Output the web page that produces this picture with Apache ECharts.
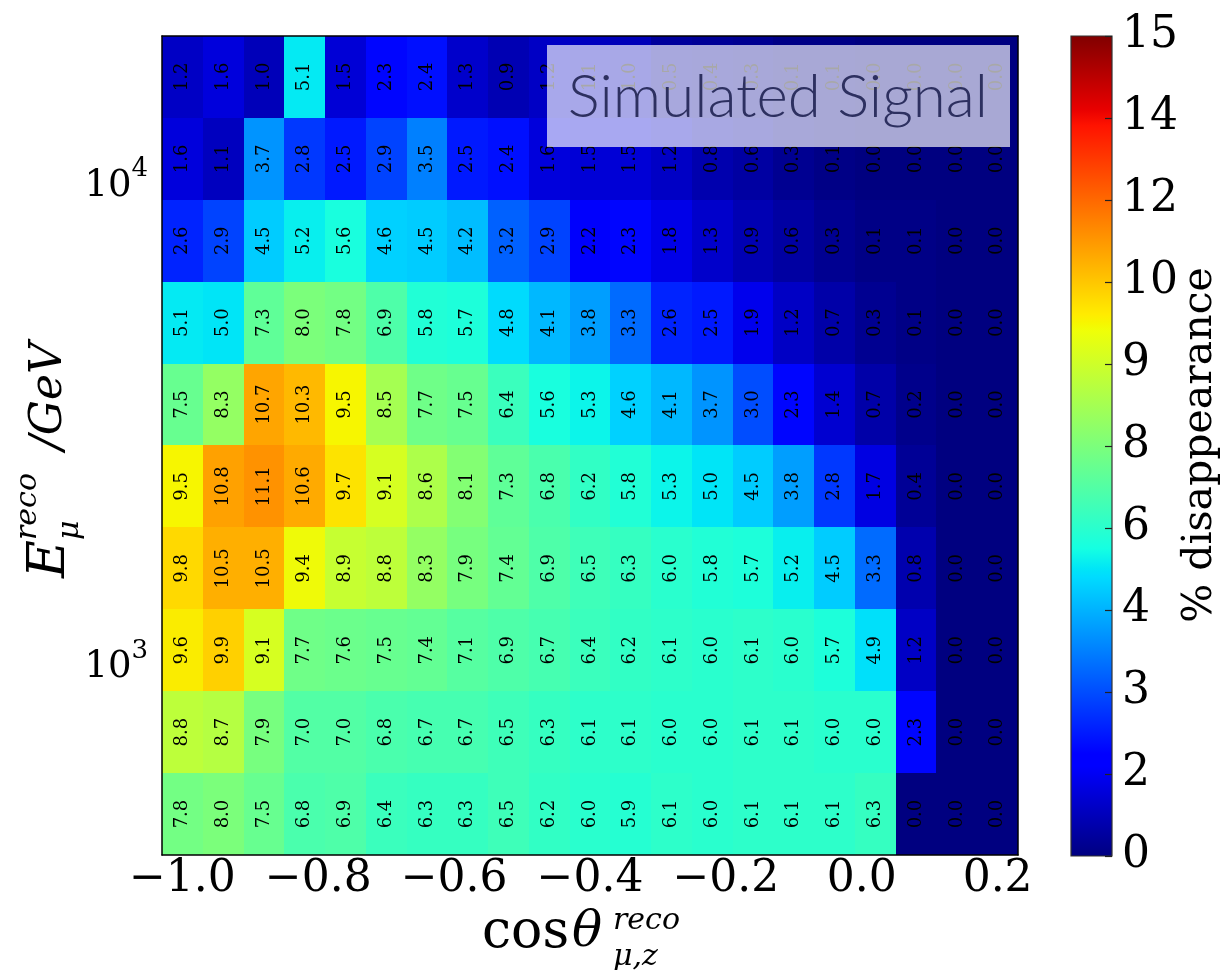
<!DOCTYPE html>
<html><head><meta charset="utf-8">
<script src="https://cdn.jsdelivr.net/npm/echarts@6/dist/echarts.min.js"></script>
<style>html,body{margin:0;padding:0;background:#fff}#c{width:1228px;height:970px}</style>
</head><body><div id="c"></div>
<script>
// cos(theta) bin edges (21 bins)
const cosEdges = [-1.03,-0.97,-0.91,-0.85,-0.79,-0.73,-0.67,-0.61,-0.55,-0.49,-0.43,-0.37,-0.31,-0.25,-0.19,-0.13,-0.07,-0.01,0.05,0.11,0.17,0.23];
// reconstructed muon energy bin edges in GeV (10 bins, log spaced)
const energyEdges = [398.1,588.8,871.0,1288.2,1905.5,2818.4,4168.7,6166.0,9120.1,13489.6,19952.6];
// % disappearance, one array per energy bin (row9 = highest energy, top)
const row9 = [1.2,1.6,1.0,5.1,1.5,2.3,2.4,1.3,0.9,1.2,1.1,1.0,0.5,0.4,0.3,0.1,0.1,0.0,0.0,0.0,0.0];
const row8 = [1.6,1.1,3.7,2.8,2.5,2.9,3.5,2.5,2.4,1.6,1.5,1.5,1.2,0.8,0.6,0.3,0.1,0.0,0.0,0.0,0.0];
const row7 = [2.6,2.9,4.5,5.2,5.6,4.6,4.5,4.2,3.2,2.9,2.2,2.3,1.8,1.3,0.9,0.6,0.3,0.1,0.1,0.0,0.0];
const row6 = [5.1,5.0,7.3,8.0,7.8,6.9,5.8,5.7,4.8,4.1,3.8,3.3,2.6,2.5,1.9,1.2,0.7,0.3,0.1,0.0,0.0];
const row5 = [7.5,8.3,10.7,10.3,9.5,8.5,7.7,7.5,6.4,5.6,5.3,4.6,4.1,3.7,3.0,2.3,1.4,0.7,0.2,0.0,0.0];
const row4 = [9.5,10.8,11.1,10.6,9.7,9.1,8.6,8.1,7.3,6.8,6.2,5.8,5.3,5.0,4.5,3.8,2.8,1.7,0.4,0.0,0.0];
const row3 = [9.8,10.5,10.5,9.4,8.9,8.8,8.3,7.9,7.4,6.9,6.5,6.3,6.0,5.8,5.7,5.2,4.5,3.3,0.8,0.0,0.0];
const row2 = [9.6,9.9,9.1,7.7,7.6,7.5,7.4,7.1,6.9,6.7,6.4,6.2,6.1,6.0,6.1,6.0,5.7,4.9,1.2,0.0,0.0];
const row1 = [8.8,8.7,7.9,7.0,7.0,6.8,6.7,6.7,6.5,6.3,6.1,6.1,6.0,6.0,6.1,6.1,6.0,6.0,2.3,0.0,0.0];
const row0 = [7.8,8.0,7.5,6.8,6.9,6.4,6.3,6.3,6.5,6.2,6.0,5.9,6.1,6.0,6.1,6.1,6.1,6.3,0.0,0.0,0.0];
const rowsBottomToTop = [row0,row1,row2,row3,row4,row5,row6,row7,row8,row9];
// tick labels
const xTicks = [-1.0,-0.8,-0.6,-0.4,-0.2,0.0,0.2];
const yTicks = [1000,10000];
const cbTicks = [0,2,3,4,6,8,9,10,12,14,15];

// ---- jet colormap (matplotlib) ----
const jetR=[[0,0],[0.35,0],[0.66,1],[0.89,1],[1,0.5]];
const jetG=[[0,0],[0.125,0],[0.375,1],[0.64,1],[0.91,0],[1,0]];
const jetB=[[0,0.5],[0.11,1],[0.34,1],[0.65,0],[1,0]];
function ch(p,x){for(let i=0;i<p.length-1;i++){if(x<=p[i+1][0]){return p[i][1]+(p[i+1][1]-p[i][1])*(x-p[i][0])/(p[i+1][0]-p[i][0]);}}return p[p.length-1][1];}
function jet(x){const r=Math.round(255*ch(jetR,x)),g=Math.round(255*ch(jetG,x)),b=Math.round(255*ch(jetB,x));return 'rgb('+r+','+g+','+b+')';}
// colorbar position of a value (colorbar ticks are evenly spaced)
function cbPos(v){for(let i=0;i<cbTicks.length-1;i++){if(v<=cbTicks[i+1]){return (i+(v-cbTicks[i])/(cbTicks[i+1]-cbTicks[i]))/(cbTicks.length-1);}}return 1;}
const cellColorStops=[];
for(let k=0;k<=60;k++){cellColorStops.push(jet(cbPos(k*0.25)));}
const jetBreaks=[0,0.11,0.125,0.34,0.35,0.375,0.64,0.65,0.66,0.89,0.91,1];

const cells=[];
rowsBottomToTop.forEach((row,j)=>{row.forEach((v,i)=>{cells.push([cosEdges[i],cosEdges[i+1],energyEdges[j],energyEdges[j+1],v]);});});

const SERIF='"DejaVu Serif", serif';
const chart=echarts.init(document.getElementById('c'),null,{renderer:'canvas'});
function renderCell(params,api){
  const p0=api.coord([api.value(0),api.value(2)]);
  const p1=api.coord([api.value(1),api.value(3)]);
  const xa=Math.round(p0[0]),xb=Math.round(p1[0]),ya=Math.round(p1[1]),yb=Math.round(p0[1]);
  const c=api.visual('color');
  return {type:'group',children:[
    {type:'rect',shape:{x:xa,y:ya,width:xb-xa,height:yb-ya},style:{fill:c}},
    {type:'text',x:(p0[0]+p1[0])/2,y:(p0[1]+p1[1])/2,rotation:Math.PI/2,z2:5,style:{text:api.value(4).toFixed(1),fill:'#000',font:'18px '+SERIF,align:'center',verticalAlign:'middle'}}
  ]};
}
function renderBar(params,api){
  const p0=api.coord([api.value(0),api.value(2)]);
  const p1=api.coord([api.value(1),api.value(3)]);
  return {type:'rect',shape:{x:p0[0],y:p1[1],width:p1[0]-p0[0],height:p0[1]-p1[1]},
    style:{fill:new echarts.graphic.LinearGradient(0,1,0,0,jetBreaks.map(b=>({offset:b,color:jet(b)}))),stroke:'#333',lineWidth:1.2}};
}
const lineBlack={show:true,onZero:false,lineStyle:{color:'#000',width:1.5}};
const option={
  animation:false,
  backgroundColor:'#fff',
  grid:[{left:162,top:36,width:856,height:819},{left:1071,top:36,width:41,height:820}],
  xAxis:[
    {type:'value',gridIndex:0,min:cosEdges[0],max:cosEdges[cosEdges.length-1],z:10,
     axisLine:lineBlack,axisTick:{show:false},splitLine:{show:false},
     axisLabel:{customValues:xTicks,margin:3,color:'#000',fontFamily:'DejaVu Serif',fontSize:44,
       formatter:v=>(v<-1e-9?'\u2212':'')+Math.abs(v).toFixed(1)}},
    {type:'value',gridIndex:0,position:'top',min:cosEdges[0],max:cosEdges[cosEdges.length-1],z:10,
     axisLine:lineBlack,axisTick:{show:false},axisLabel:{show:false},splitLine:{show:false}},
    {type:'value',gridIndex:1,min:0,max:1,show:false,axisLine:{onZero:false}}
  ],
  yAxis:[
    {type:'log',logBase:10,gridIndex:0,min:energyEdges[0],max:energyEdges[energyEdges.length-1],z:10,
     axisLine:lineBlack,axisTick:{show:false},splitLine:{show:false},minorTick:{show:false},
     axisLabel:{customValues:yTicks,margin:14,color:'#000',
       formatter:v=>'{b|10}{s|'+Math.round(Math.log10(v))+'}',
       rich:{b:{fontFamily:'DejaVu Serif',fontSize:37,lineHeight:48,verticalAlign:'bottom',color:'#000'},
             s:{fontFamily:'DejaVu Serif',fontSize:26,lineHeight:26,verticalAlign:'top',color:'#000'}}}},
    {type:'log',logBase:10,gridIndex:0,position:'right',min:energyEdges[0],max:energyEdges[energyEdges.length-1],z:10,
     axisLine:lineBlack,axisTick:{show:false},axisLabel:{show:false},splitLine:{show:false}},
    {type:'value',gridIndex:1,position:'right',min:0,max:cbTicks.length-1,interval:1,z:10,
     axisLine:{show:false,onZero:false},splitLine:{show:false},
     axisTick:{show:true,inside:true,length:7,lineStyle:{color:'#222',width:1.2}},
     axisLabel:{margin:10,color:'#000',fontFamily:'DejaVu Serif',fontSize:44,formatter:v=>String(cbTicks[Math.round(v)])}}
  ],
  visualMap:{type:'continuous',show:false,min:0,max:15,dimension:4,seriesIndex:0,inRange:{color:cellColorStops}},
  series:[
    {type:'custom',xAxisIndex:0,yAxisIndex:0,renderItem:renderCell,data:cells,z:2,clip:true},
    {type:'custom',xAxisIndex:2,yAxisIndex:2,renderItem:renderBar,data:[[0,1,0,cbTicks.length-1]],z:2}
  ],
  graphic:[
    {type:'rect',z:100,shape:{x:547,y:45,width:463,height:102},style:{fill:'rgba(255,255,255,0.66)'}},
    {type:'text',z:101,x:778,y:98,style:{text:'Simulated Signal',font:'300 60px Lato, "Open Sans", sans-serif',fill:'#2d3060',align:'center',verticalAlign:'middle'}},
    {type:'group',z:100,children:[
      {type:'text',x:482,y:933,style:{text:'cos',font:'52px '+SERIF,fill:'#000',align:'left',verticalAlign:'middle'}},
      {type:'text',x:572,y:933,style:{text:'θ',font:'italic 50px '+SERIF,fill:'#000',align:'left',verticalAlign:'middle'}},
      {type:'text',x:613,y:921,style:{text:'reco',font:'italic 30px '+SERIF,fill:'#000',align:'left',verticalAlign:'middle'}},
      {type:'text',x:613,y:957,style:{text:'μ,z',font:'italic 30px '+SERIF,fill:'#000',align:'left',verticalAlign:'middle'}}
    ]},
    {type:'group',z:100,x:50,y:462,rotation:Math.PI/2,children:[
      {type:'text',x:-116,y:0,style:{text:'E',font:'italic 52px '+SERIF,fill:'#000',align:'left',verticalAlign:'middle'}},
      {type:'text',x:-78,y:-22,style:{text:'reco',font:'italic 30px '+SERIF,fill:'#000',align:'left',verticalAlign:'middle'}},
      {type:'text',x:-78,y:20,style:{text:'μ',font:'italic 30px '+SERIF,fill:'#000',align:'left',verticalAlign:'middle'}},
      {type:'text',x:12,y:0,style:{text:'/GeV',font:'italic 44px '+SERIF,fill:'#000',align:'left',verticalAlign:'middle'}}
    ]},
    {type:'text',z:100,x:1200,y:445,rotation:Math.PI/2,style:{text:'% disappearance',font:'41px '+SERIF,fill:'#000',align:'center',verticalAlign:'middle'}}
  ]
};
chart.setOption(option);
</script></body></html>
